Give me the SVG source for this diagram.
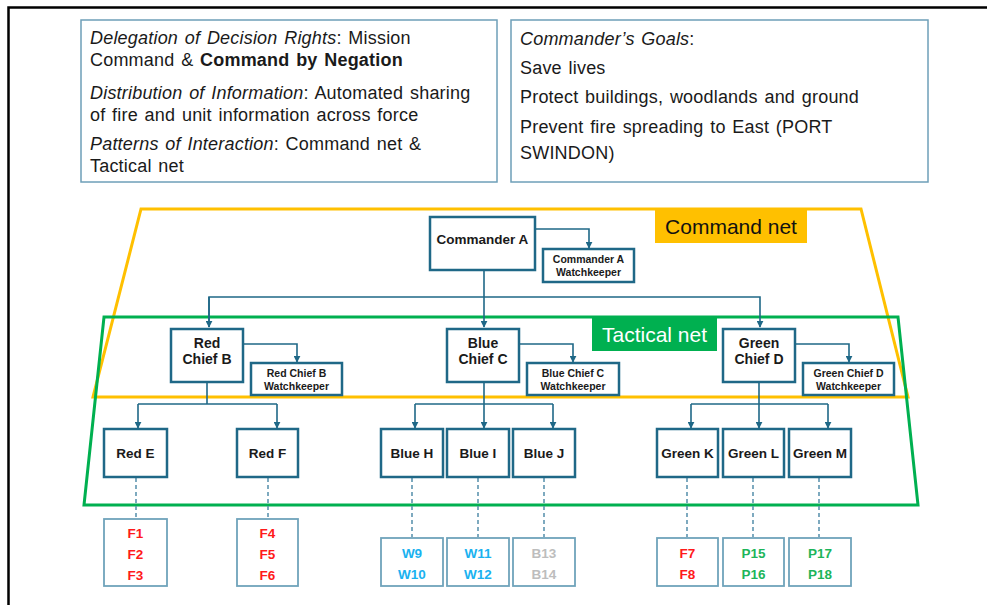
<svg xmlns="http://www.w3.org/2000/svg" width="987" height="607" viewBox="0 0 987 607">
  <defs>
    <marker id="arr" viewBox="0 0 10 10" refX="9" refY="5" markerWidth="7" markerHeight="7" markerUnits="userSpaceOnUse" orient="auto">
      <path d="M0,0 L10,5 L0,10 z" fill="#1F6887"/>
    </marker>
    <style>
      text { font-family: "Liberation Sans", Arial, sans-serif; }
      .info { fill: #fff; stroke: #6E9FB8; stroke-width: 1.5; }
      .itxt { font-size: 18px; letter-spacing: 0.2px; word-spacing: 1.5px; fill: #1a1a1a; }
      .node { fill: #fff; stroke: #1F6887; stroke-width: 2.5; }
      .unit { fill: #fff; stroke: #6FA3BB; stroke-width: 1.8; }
      .lbl { font-weight: bold; font-size: 13.5px; fill: #1a1a1a; text-anchor: middle; }
      .chief { font-weight: bold; font-size: 14px; fill: #1a1a1a; text-anchor: middle; }
      .wk { font-weight: bold; font-size: 10.5px; fill: #1a1a1a; text-anchor: middle; }
      .ut { font-weight: bold; font-size: 13.5px; text-anchor: middle; }
      .red { fill: #FF1A1A; }
      .blue { fill: #1AB2F0; }
      .grey { fill: #BDBDBD; }
      .green { fill: #1DB55A; }
      .link { fill: none; stroke: #1F6887; stroke-width: 1.6; }
      .dash { fill: none; stroke: #5E95B0; stroke-width: 1.6; stroke-dasharray: 4 3; }
    </style>
  </defs>

  <rect width="987" height="607" fill="#fff"/>
  <!-- page frame -->
  <path d="M8.5,605 V7.5 H987" fill="none" stroke="#000" stroke-width="2.5"/>

  <!-- information panels -->
  <g id="panel-approach">
    <rect class="info" x="81" y="20" width="416" height="162"/>
    <text class="itxt" x="90" y="44"><tspan font-style="italic">Delegation of Decision Rights</tspan>: Mission</text>
    <text class="itxt" x="90" y="66">Command &amp; <tspan font-weight="bold">Command by Negation</tspan></text>
    <text class="itxt" x="90" y="99"><tspan font-style="italic">Distribution of Information</tspan>: Automated sharing</text>
    <text class="itxt" x="90" y="121">of fire and unit information across force</text>
    <text class="itxt" x="90" y="150"><tspan font-style="italic">Patterns of Interaction</tspan>: Command net &amp;</text>
    <text class="itxt" x="90" y="172">Tactical net</text>
  </g>
  <g id="panel-goals">
    <rect class="info" x="511" y="20" width="417" height="162"/>
    <text class="itxt" x="520" y="45"><tspan font-style="italic">Commander’s Goals</tspan>:</text>
    <text class="itxt" x="520" y="74">Save lives</text>
    <text class="itxt" x="520" y="103">Protect buildings, woodlands and ground</text>
    <text class="itxt" x="520" y="133">Prevent fire spreading to East (PORT</text>
    <text class="itxt" x="520" y="159">SWINDON)</text>
  </g>

  <!-- network boundaries -->
  <g id="command-net">
    <polygon points="141,209 861,209 908,397 93,397" fill="none" stroke="#FFC000" stroke-width="3"/>
    <rect x="655" y="210" width="152" height="33" fill="#FFC000"/>
    <text x="731" y="234" font-size="21px" text-anchor="middle" fill="#111">Command net</text>
  </g>
  <g id="tactical-net">
    <polygon points="104,317 898,317 918,505 84,505" fill="none" stroke="#00B050" stroke-width="3"/>
    <rect x="592" y="318" width="125" height="33" fill="#00B050"/>
    <text x="654.5" y="342" font-size="21px" text-anchor="middle" fill="#fff">Tactical net</text>
  </g>

  <!-- connectors -->
  <g id="connectors">
    <path class="link" d="M535,229 H589 V248" marker-end="url(#arr)"/>
    <path class="link" d="M484,270 V327" marker-end="url(#arr)"/>
    <path class="link" d="M209,327 V297 H760 V327" marker-end="url(#arr)"/>
    <path class="link" d="M209,297 V327" marker-end="url(#arr)"/>
    <path class="link" d="M243,344 H297 V362" marker-end="url(#arr)"/>
    <path class="link" d="M519,344 H573 V362" marker-end="url(#arr)"/>
    <path class="link" d="M795,344 H849 V362" marker-end="url(#arr)"/>

    <path class="link" d="M207,382 V404"/>
    <path class="link" d="M138,404 H277"/>
    <path class="link" d="M138,404 V428" marker-end="url(#arr)"/>
    <path class="link" d="M277,404 V428" marker-end="url(#arr)"/>

    <path class="link" d="M484,382 V428" marker-end="url(#arr)"/>
    <path class="link" d="M415,404 H553"/>
    <path class="link" d="M415,404 V428" marker-end="url(#arr)"/>
    <path class="link" d="M553,404 V428" marker-end="url(#arr)"/>

    <path class="link" d="M759,382 V428" marker-end="url(#arr)"/>
    <path class="link" d="M691,404 H828"/>
    <path class="link" d="M691,404 V428" marker-end="url(#arr)"/>
    <path class="link" d="M828,404 V428" marker-end="url(#arr)"/>

    <path class="dash" d="M136,478 V518"/>
    <path class="dash" d="M268,478 V518"/>
    <path class="dash" d="M412,478 V537"/>
    <path class="dash" d="M478,478 V537"/>
    <path class="dash" d="M544,478 V537"/>
    <path class="dash" d="M687,478 V537"/>
    <path class="dash" d="M753,478 V537"/>
    <path class="dash" d="M819,478 V537"/>
  </g>

  <!-- command level -->
  <g id="commander-a">
    <rect class="node" x="430" y="217" width="105" height="53"/>
    <text class="lbl" x="482.5" y="244">Commander A</text>
  </g>
  <g id="commander-a-watchkeeper">
    <rect class="node" x="543" y="249" width="91" height="33"/>
    <text class="wk" x="588.5" y="263">Commander A</text>
    <text class="wk" x="588.5" y="276">Watchkeeper</text>
  </g>

  <!-- chiefs -->
  <g id="red-chief-b">
    <rect class="node" x="171" y="329" width="72" height="53"/>
    <text class="chief" x="207" y="348">Red</text>
    <text class="chief" x="207" y="364">Chief B</text>
  </g>
  <g id="red-chief-b-watchkeeper">
    <rect class="node" x="251" y="363" width="91" height="32"/>
    <text class="wk" x="296.5" y="377">Red Chief B</text>
    <text class="wk" x="296.5" y="390">Watchkeeper</text>
  </g>
  <g id="blue-chief-c">
    <rect class="node" x="447" y="329" width="72" height="53"/>
    <text class="chief" x="483" y="348">Blue</text>
    <text class="chief" x="483" y="364">Chief C</text>
  </g>
  <g id="blue-chief-c-watchkeeper">
    <rect class="node" x="527" y="363" width="92" height="32"/>
    <text class="wk" x="573" y="377">Blue Chief C</text>
    <text class="wk" x="573" y="390">Watchkeeper</text>
  </g>
  <g id="green-chief-d">
    <rect class="node" x="723" y="329" width="72" height="53"/>
    <text class="chief" x="759" y="348">Green</text>
    <text class="chief" x="759" y="364">Chief D</text>
  </g>
  <g id="green-chief-d-watchkeeper">
    <rect class="node" x="803" y="363" width="91" height="32"/>
    <text class="wk" x="848.5" y="377">Green Chief D</text>
    <text class="wk" x="848.5" y="390">Watchkeeper</text>
  </g>

  <!-- crews -->
  <g id="red-e"><rect class="node" x="104" y="429" width="63" height="48"/><text class="lbl" x="135.5" y="458">Red E</text></g>
  <g id="red-f"><rect class="node" x="237" y="429" width="61" height="48"/><text class="lbl" x="267.5" y="458">Red F</text></g>
  <g id="blue-h"><rect class="node" x="381" y="429" width="62" height="48"/><text class="lbl" x="412" y="458">Blue H</text></g>
  <g id="blue-i"><rect class="node" x="447" y="429" width="62" height="48"/><text class="lbl" x="478" y="458">Blue I</text></g>
  <g id="blue-j"><rect class="node" x="513" y="429" width="62" height="48"/><text class="lbl" x="544" y="458">Blue J</text></g>
  <g id="green-k"><rect class="node" x="657" y="429" width="61" height="48"/><text class="lbl" x="687.5" y="458">Green K</text></g>
  <g id="green-l"><rect class="node" x="723" y="429" width="61" height="48"/><text class="lbl" x="753.5" y="458">Green L</text></g>
  <g id="green-m"><rect class="node" x="789" y="429" width="62" height="48"/><text class="lbl" x="820" y="458">Green M</text></g>

  <!-- assets -->
  <g id="assets-red-e">
    <rect class="unit" x="104" y="519" width="63" height="67"/>
    <text class="ut red" x="135.5" y="538">F1</text>
    <text class="ut red" x="135.5" y="559">F2</text>
    <text class="ut red" x="135.5" y="580">F3</text>
  </g>
  <g id="assets-red-f">
    <rect class="unit" x="237" y="519" width="61" height="67"/>
    <text class="ut red" x="267.5" y="538">F4</text>
    <text class="ut red" x="267.5" y="559">F5</text>
    <text class="ut red" x="267.5" y="580">F6</text>
  </g>
  <g id="assets-blue-h">
    <rect class="unit" x="381" y="538" width="62" height="48"/>
    <text class="ut blue" x="412" y="558">W9</text>
    <text class="ut blue" x="412" y="579">W10</text>
  </g>
  <g id="assets-blue-i">
    <rect class="unit" x="447" y="538" width="62" height="48"/>
    <text class="ut blue" x="478" y="558">W11</text>
    <text class="ut blue" x="478" y="579">W12</text>
  </g>
  <g id="assets-blue-j">
    <rect class="unit" x="513" y="538" width="62" height="48"/>
    <text class="ut grey" x="544" y="558">B13</text>
    <text class="ut grey" x="544" y="579">B14</text>
  </g>
  <g id="assets-green-k">
    <rect class="unit" x="657" y="538" width="61" height="48"/>
    <text class="ut red" x="687.5" y="558">F7</text>
    <text class="ut red" x="687.5" y="579">F8</text>
  </g>
  <g id="assets-green-l">
    <rect class="unit" x="723" y="538" width="61" height="48"/>
    <text class="ut green" x="753.5" y="558">P15</text>
    <text class="ut green" x="753.5" y="579">P16</text>
  </g>
  <g id="assets-green-m">
    <rect class="unit" x="789" y="538" width="62" height="48"/>
    <text class="ut green" x="820" y="558">P17</text>
    <text class="ut green" x="820" y="579">P18</text>
  </g>
</svg>
